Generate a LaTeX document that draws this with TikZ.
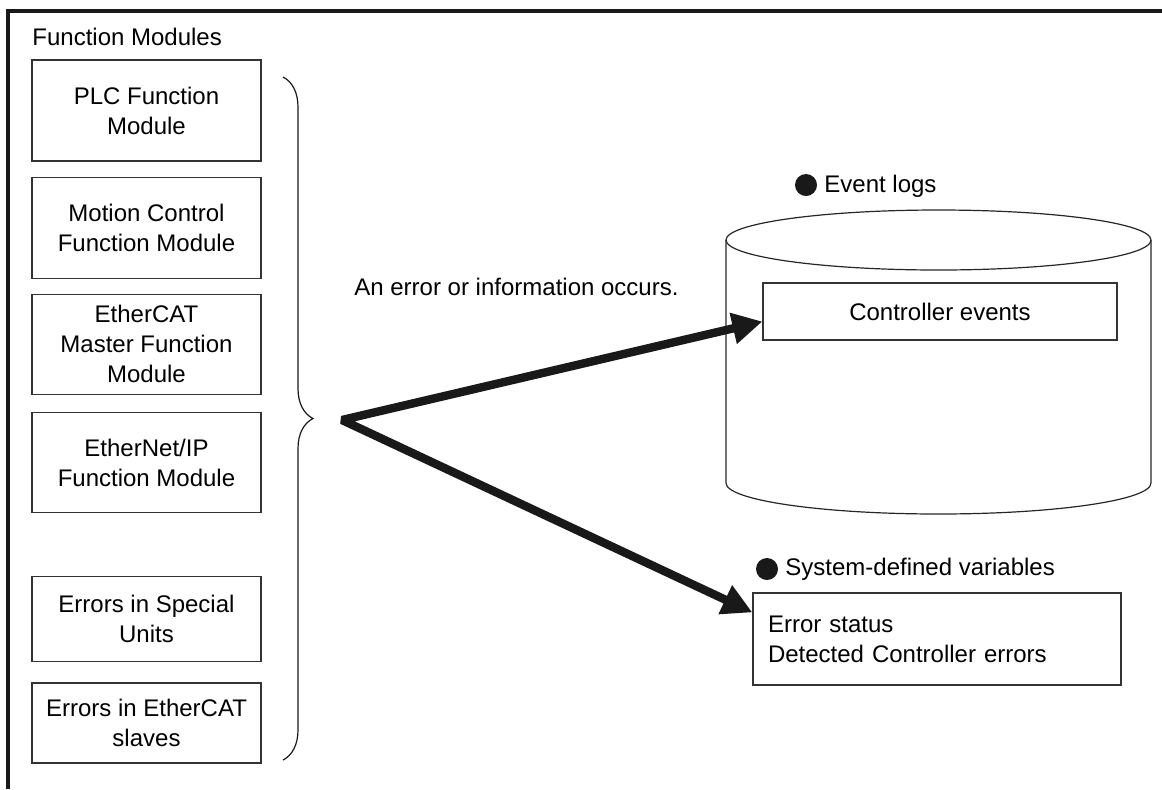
\documentclass[tikz,border=0pt]{standalone}
\usepackage{fontspec}
\setmainfont{Liberation Sans}
\usepackage{tikz}
\usetikzlibrary{arrows.meta, positioning, decorations.pathreplacing}

\begin{document}
\begin{tikzpicture}[
  x=0.5pt, y=-0.5pt,
  every node/.style={font=\fontsize{12}{15}\selectfont},
  fbox/.style={draw=black!80, line width=0.6pt, minimum width=114.5pt,
               align=center, inner sep=2pt},
  ebox/.style={draw=black!80, line width=0.6pt, align=left},
  dot/.style={circle, fill=black!90, inner sep=0pt, minimum size=11pt},
  lbl/.style={inner sep=0pt, anchor=base west},
  frame/.style={line width=1.6pt, black!90},
  arr/.style={line width=4.2pt, black!90, line join=bevel},
]
\useasboundingbox (0,0) rectangle (1162,789);

% Outer frame (cut at right and bottom)
\draw[frame] (8,789) -- (8,11) -- (1162,11);

% Function modules (left column)
\node[lbl] (fmtitle) at (32,45) {Function Modules};
\node[fbox, minimum height=50.5pt] (plc) at (146.5,110.5) {PLC Function\\Module};
\node[fbox, minimum height=50.5pt, below=7.5pt of plc] (mc) {Motion Control\\Function Module};
\node[fbox, minimum height=50pt, below=7.5pt of mc] (ecat) {EtherCAT\\Master Function\\Module};
\node[fbox, minimum height=50pt, below=8.5pt of ecat] (eip) {EtherNet/IP\\Function Module};
\node[fbox, minimum height=42.5pt, below=31.5pt of eip] (spu) {Errors in Special\\Units};
\node[fbox, minimum height=40pt, below=10pt of spu] (slv) {Errors in EtherCAT\\slaves};

% Brace gathering all sources
\draw[black!90, line width=0.6pt, decorate, decoration={brace, amplitude=15pt}]
  (283,77) -- (283,760);
\coordinate (src) at (342,420);

\node[lbl] (occ) at (354,295) {An error or information occurs.};

% Event log store (cylinder)
\draw[black!85, line width=0.6pt] (726,240) -- (726,483)
  arc[start angle=180, end angle=0, x radius=212.5, y radius=31] -- (1151,240);
\draw[black!85, line width=0.6pt] (938.5,240) ellipse[x radius=212.5, y radius=30];
\node[dot] (evdot) at (806,185) {};
\node[lbl] (evlog) at (824,192) {Event logs};
\node[ebox, minimum width=177pt, minimum height=28.5pt, align=center] (ctrl) at (940,311.5) {Controller events};

% System-defined variables
\node[dot] (svdot) at (767,569) {};
\node[lbl] (svar) at (785,575) {System-defined variables};
\node[ebox, minimum width=184pt, minimum height=46pt, text width=169pt, inner xsep=7.5pt] (sys) at (937,639)
  {Error status\\Detected Controller errors};

% Arrows: source -> event log, source -> variables
\draw[arr, {Triangle[length=15pt, width=15pt]}-{Triangle[length=15pt, width=15pt]}]
  ([yshift=-5pt]ctrl.west) -- (src) -- ([yshift=-10pt]sys.north west);

\end{tikzpicture}
\end{document}
